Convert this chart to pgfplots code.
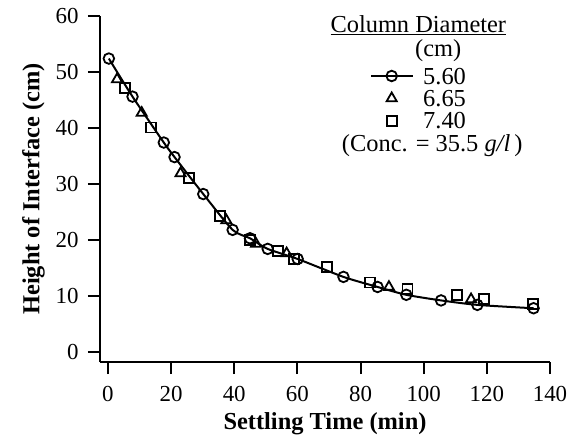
\documentclass[border=0pt]{standalone}
\usepackage{fontspec}
\setmainfont{Liberation Serif}
\usepackage{pgfplots}
\pgfplotsset{compat=1.18}
\begin{document}
\begin{tikzpicture}
\begin{axis}[name=ax, scale only axis, width=450bp, height=346bp,
 xmin=-2.5, xmax=140, ymin=-1.8, ymax=60,
 axis x line*=bottom, axis y line*=left,
 axis line style={line width=2bp},
 xtick={0,20,...,140}, ytick={0,10,...,60},
 tick align=outside, major tick length=12bp,
 tick style={line width=2bp, black},
 /pgf/number format/assume math mode=true,
 ticklabel style={font=\fontsize{23}{26}\selectfont},
 xticklabel style={yshift=-9bp},
 yticklabel style={xshift=-6bp},
 label style={font=\fontsize{24.5}{28}\selectfont\bfseries},
 xlabel={Settling Time (min)}, ylabel={Height of Interface (cm)},
 xlabel style={yshift=-4bp},
 ylabel style={yshift=4bp},
 legend style={at={(axis cs:83,45.3)}, anchor=west, draw=none, fill=none,
   inner sep=0pt, column sep=10bp, row sep=6.3bp,
   font=\fontsize{24.5}{28}\selectfont,
   nodes={inner sep=0pt, text height=16bp, text depth=0bp}},
 legend cell align=left,
 legend image code/.code={\draw[mark repeat=2,mark phase=2,#1] plot coordinates {(0bp,0bp)(20.5bp,0bp)(41bp,0bp)};},
 clip=false,
]
\addplot[black, line width=2bp, smooth, tension=0.4, mark=o, mark size=5.3bp,
  mark options={fill=white, line width=1.8bp}] coordinates {
(0.3,52.4) (7.8,45.6) (17.7,37.4) (21.1,34.8) (30.2,28.2) (39.5,21.8) (45,20.3)
(50.6,18.4) (60.1,16.6) (74.6,13.4) (85.4,11.6) (94.5,10.2) (105.5,9.2) (117,8.4) (134.8,7.8)};
\addlegendentry{5.60}
\addplot[black, only marks, mark=triangle, mark size=5.8bp, mark options={line width=1.8bp}] coordinates {
(2.9,48.7) (10.7,42.7) (23,31.9) (37.5,23.5) (46.9,19.3) (56.6,17.6) (89,11.6) (115,9.4)};
\addlegendentry{6.65}
\addplot[black, only marks, mark=square, mark size=5bp, mark options={line width=1.8bp}] coordinates {
(5.4,47.1) (13.6,40.1) (25.7,31) (35.5,24.3) (45,20) (53.8,18) (59,16.6) (69.3,15.1)
(83,12.4) (94.9,11.2) (110.5,10.1) (119,9.5) (134.6,8.6)};
\addlegendentry{7.40}
\node[anchor=base, inner sep=0pt, font=\fontsize{24.5}{28}\selectfont] at (axis cs:98.3,57.1) {\underline{Column Diameter}};
\node[anchor=base, inner sep=0pt, font=\fontsize{24.5}{28}\selectfont] at (axis cs:104.6,52.7) {(cm)};
\node[anchor=base, inner sep=0pt, font=\fontsize{24.5}{28}\selectfont] at (axis cs:102.7,35.8) {(Conc. = 35.5 \textit{g/l}\,)};
\end{axis}
\pgfresetboundingbox
\path[use as bounding box] ([xshift=-100bp,yshift=-74bp]ax.south west) rectangle ([xshift=483bp,yshift=362bp]ax.south west);
\end{tikzpicture}
\end{document}
